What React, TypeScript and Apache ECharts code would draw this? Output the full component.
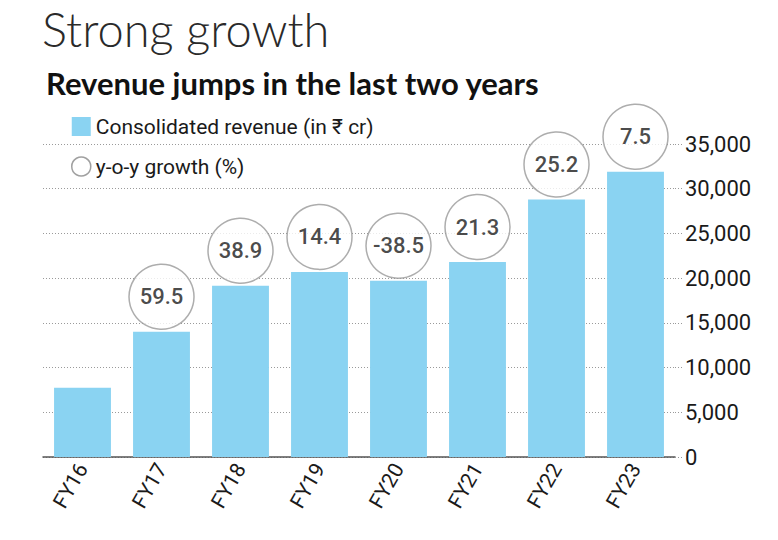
import React, { useEffect, useRef } from "react";
import * as echarts from "echarts";

const categories = ["FY16", "FY17", "FY18", "FY19", "FY20", "FY21", "FY22", "FY23"];
const revenue = [7750, 14000, 19150, 20700, 19700, 21800, 28800, 31900];
const growth: (number | null)[] = [null, 59.5, 38.9, 14.4, -38.5, 21.3, 25.2, 7.5];
const yTicks = [0, 5000, 10000, 15000, 20000, 25000, 30000, 35000];

const TEXT = "#1a1a1a";
const FONT = "Roboto";

export default function App() {
  const ref = useRef<HTMLDivElement>(null);
  useEffect(() => {
    document.body.style.margin = "0";
    if (!ref.current) return;
    const chart = echarts.init(ref.current, undefined, { renderer: "svg" });
    const scatterData = revenue.map((v, i) => (growth[i] === null ? "-" : v));
    chart.setOption({
      animation: false,
      backgroundColor: "#ffffff",
      title: [
        {
          text: "Strong growth",
          left: 37,
          top: 0,
          textStyle: { fontFamily: "Lato", fontWeight: 300, fontSize: 47, color: "#2a2a2a" },
        },
        {
          text: "Revenue jumps in the last two years",
          left: 41,
          top: 62,
          textStyle: { fontFamily: "Lato", fontWeight: "bold", fontSize: 31, color: "#111" },
        },
      ],
      legend: {
        orient: "vertical",
        left: 66,
        top: 111,
        itemWidth: 19,
        itemHeight: 19,
        itemGap: 19,
        textStyle: { fontFamily: FONT, fontSize: 21, color: TEXT, lineHeight: 20 },
        data: [
          { name: "Consolidated revenue (in ₹ cr)", icon: "rect" },
          {
            name: "y-o-y growth (%)",
            icon: "circle",
            itemStyle: { color: "#ffffff", borderColor: "#888", borderWidth: 1.5 },
          },
        ],
      },
      grid: { left: 43, right: 103, top: 144, bottom: 83 },
      xAxis: {
        type: "category",
        data: categories,
        axisLine: { show: true, lineStyle: { color: "#555", width: 1.5 } },
        axisTick: { show: false },
        axisLabel: {
          rotate: 60,
          fontFamily: FONT,
          fontSize: 21,
          color: TEXT,
          margin: 8,
        },
      },
      yAxis: {
        type: "value",
        position: "right",
        min: 0,
        max: 35000,
        interval: 5000,
        axisLine: { show: false },
        axisTick: { show: true, length: 7, lineStyle: { color: "#999", type: [1, 2] } },
        splitLine: { show: true, lineStyle: { color: "#9a9a9a", width: 1, type: [1, 2] } },
        axisLabel: {
          fontFamily: FONT,
          fontSize: 22,
          color: TEXT,
          margin: 10,
          formatter: (v: number) => (yTicks.includes(v) ? v.toLocaleString("en-US") : ""),
        },
      },
      series: [
        {
          name: "Consolidated revenue (in ₹ cr)",
          type: "bar",
          data: revenue,
          barCategoryGap: "28%",
          itemStyle: { color: "#8AD3F2" },
          z: 2,
        },
        {
          name: "y-o-y growth (%)",
          type: "scatter",
          data: scatterData,
          clip: false,
          symbol: "circle",
          symbolSize: 65,
          symbolOffset: [0, -35],
          itemStyle: { color: "#ffffff", borderColor: "#999", borderWidth: 1.5 },
          label: {
            show: true,
            position: "inside",
            fontFamily: FONT,
            fontWeight: 500,
            fontSize: 22,
            color: TEXT,
            formatter: (p: any) => {
              const g = growth[p.dataIndex];
              return g === null ? "" : String(g);
            },
          },
          z: 3,
        },
      ],
    });
    return () => chart.dispose();
  }, []);
  return (
    <div
      ref={ref}
      style={{ width: 778, height: 540, position: "absolute", left: 0, top: 0 }}
    />
  );
}
